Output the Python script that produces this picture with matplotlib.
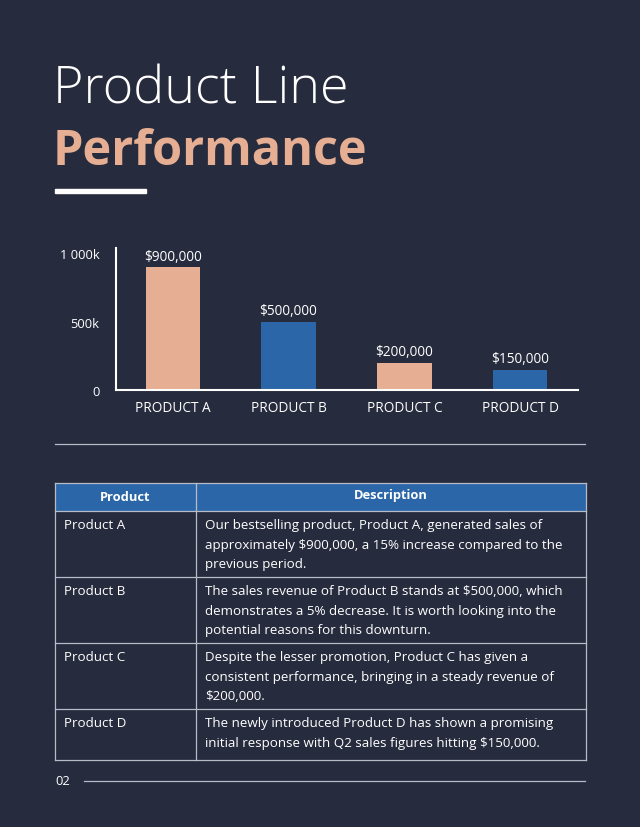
import matplotlib
matplotlib.use('Agg')
import matplotlib.pyplot as plt
from matplotlib.patches import Rectangle
from matplotlib.lines import Line2D
from matplotlib.ticker import FuncFormatter

products = ['Product A', 'Product B', 'Product C', 'Product D']
sales = [900000, 500000, 200000, 150000]
bar_labels = ['$900,000', '$500,000', '$200,000', '$150,000']
y_ticks = [0, 500000, 1000000]
descriptions = [
    'Our bestselling product, Product A, generated sales of\napproximately $900,000, a 15% increase compared to the\nprevious period.',
    'The sales revenue of Product B stands at $500,000, which\ndemonstrates a 5% decrease. It is worth looking into the\npotential reasons for this downturn.',
    'Despite the lesser promotion, Product C has given a\nconsistent performance, bringing in a steady revenue of\n$200,000.',
    'The newly introduced Product D has shown a promising\ninitial response with Q2 sales figures hitting $150,000.',
]

BG = '#262b3d'
PEACH = '#e6ae92'
BLUE = '#2b67a8'
LINE = '#b8bcc8'
FONT = 'Open Sans'

W, H = 640, 828
fig = plt.figure(figsize=(W / 100, H / 100), dpi=100, facecolor=BG)


# helpers to place things in pixel coordinates (top-left origin)
def fx(x):
    return x / W


def fy(y):
    return 1 - y / H


def hline(x0, x1, y, color=LINE, lw=1.0):
    fig.add_artist(Line2D([fx(x0), fx(x1)], [fy(y), fy(y)], color=color, lw=lw,
                          transform=fig.transFigure))


# title
fig.text(fx(53), fy(104), 'Product Line', color='white', fontsize=37.5,
         family=FONT, fontweight='light', va='baseline')
fig.text(fx(53), fy(165), 'Performance', color=PEACH, fontsize=35,
         family=FONT, fontweight='bold', va='baseline')
fig.add_artist(Rectangle((fx(55), fy(194)), fx(91), 4 / H, color='white',
                         transform=fig.transFigure))

# bar chart
ax = fig.add_axes([fx(116), fy(391), fx(462), (391 - 249) / H])
ax.set_facecolor(BG)
colors = [PEACH, BLUE, PEACH, BLUE]
x = range(len(products))
ax.bar(x, sales, width=0.47, color=colors)
for i, v in enumerate(sales):
    ax.text(i, v + 25000, bar_labels[i], ha='center', va='bottom', color='white',
            fontsize=9.8, family=FONT)
ax.set_xlim(-0.49, 3.5)
ax.set_ylim(0, 1040000)
ax.set_yticks(y_ticks)
ax.yaxis.set_major_formatter(FuncFormatter(
    lambda v, p: '0' if v == 0 else ('1 000k' if v == 1000000 else '%dk' % (v / 1000))))
ax.set_xticks(list(x))
ax.set_xticklabels([p.upper() for p in products])
ax.tick_params(length=0, colors='white', labelsize=9.8)
for lab in ax.get_xticklabels() + ax.get_yticklabels():
    lab.set_family(FONT)
ax.tick_params(axis='x', pad=7)
ax.tick_params(axis='y', pad=12, labelsize=9.3)
for s in ['top', 'right']:
    ax.spines[s].set_visible(False)
ax.spines['left'].set_color('white')
ax.spines['bottom'].set_color('white')
ax.spines['left'].set_linewidth(1.5)
ax.spines['bottom'].set_linewidth(1.5)

hline(55, 585, 445, lw=0.9)

# table
tx0, tx1, tsplit = 55, 586, 196
head_top, head_bot = 484, 512
row_edges = [512, 578, 644, 710, 761]
fig.add_artist(Rectangle((fx(tx0), fy(head_bot)), fx(tx1 - tx0), (head_bot - head_top) / H,
                         facecolor=BLUE, edgecolor='none', transform=fig.transFigure))
fig.text(fx((tx0 + tsplit) / 2), fy(498), 'Product', color='white', fontsize=9.3,
         fontweight='bold', family=FONT, ha='center', va='center')
fig.text(fx((tsplit + tx1) / 2), fy(496), 'Description', color='white', fontsize=9.3,
         fontweight='bold', family=FONT, ha='center', va='center')
for y in [head_top] + row_edges:
    hline(tx0, tx1, y, lw=0.9)
for xv in [tx0, tsplit, tx1]:
    fig.add_artist(Line2D([fx(xv), fx(xv)], [fy(head_top), fy(row_edges[-1])], color=LINE,
                          lw=0.9, transform=fig.transFigure))
for i, (p, d) in enumerate(zip(products, descriptions)):
    top = row_edges[i]
    fig.text(fx(64), fy(top + 7), p, color='white', fontsize=9.6, family=FONT, va='top')
    fig.text(fx(205), fy(top + 7), d, color='white', fontsize=9.6, family=FONT, va='top',
             linespacing=1.66)

# footer
fig.text(fx(55), fy(782), '02', color='white', fontsize=9.3, family=FONT, va='center')
hline(84, 585, 782, lw=0.9)

fig.savefig('out.png', dpi=100, facecolor=BG)
